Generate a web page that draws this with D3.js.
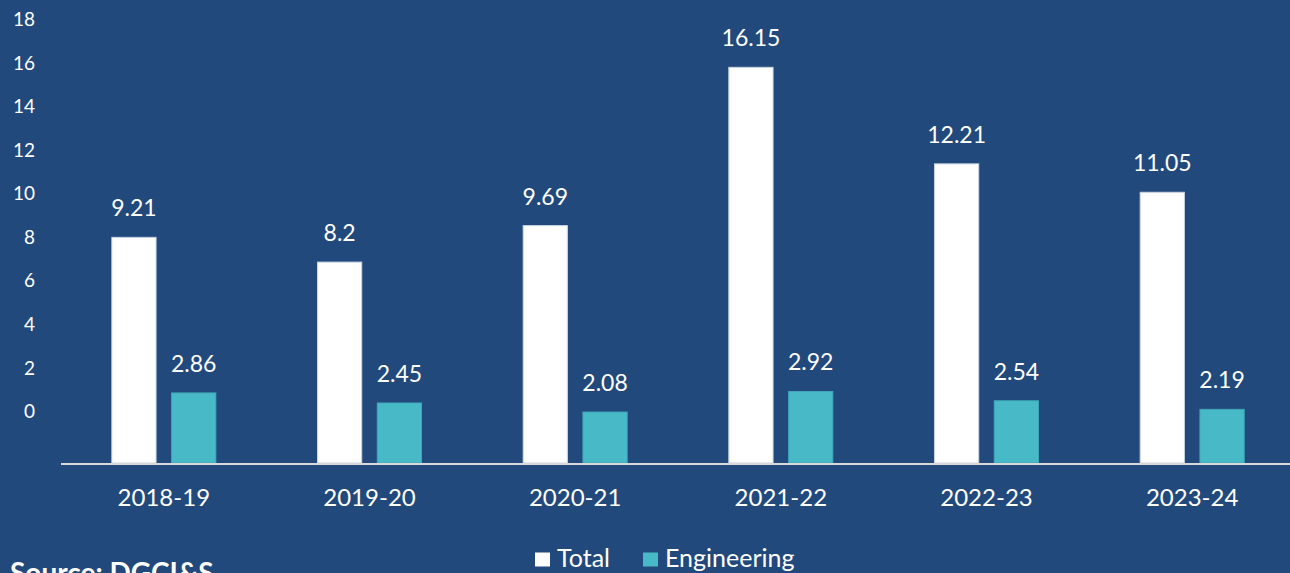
<!DOCTYPE html>
<html>
<head>
<meta charset="utf-8">
<script src="https://cdn.jsdelivr.net/npm/d3@7/dist/d3.min.js"></script>
<style>
  html, body { margin:0; padding:0; background:#22497c; overflow:hidden; }
  svg { display:block; font-family: Lato, "Open Sans", sans-serif; }
</style>
</head>
<body>
<svg id="chart" width="1290" height="573"></svg>
<script>
// datos
const years = ["2018-19","2019-20","2020-21","2021-22","2022-23","2023-24"];
const totalVals = [9.21, 8.2, 9.69, 16.15, 12.21, 11.05];
const engVals = [2.86, 2.45, 2.08, 2.92, 2.54, 2.19];
const tickVals = [0,2,4,6,8,10,12,14,16,18];
const seriesNames = ["Total","Engineering"];

const W = 1290, H = 573;
const BG = "#22497c", WHITE = "#ffffff", TEAL = "#48b9c7";

const svg = d3.select("#chart");
svg.append("rect").attr("width", W).attr("height", H).attr("fill", BG);

const x = d3.scaleBand().domain(years).range([61, 1295]).padding(0);
const xSub = d3.scaleBand().domain(seriesNames).range([-52, 52]).paddingInner(0.26);

// escala de barras (línea base en 463)
const yBar = d3.scaleLinear().domain([0, 18]).range([463, 22]);
// escala de etiquetas del eje (desplazada respecto de las barras, como en el original)
const yTick = d3.scaleLinear().domain([0, 18]).range([411.5, 19.3]);

// etiquetas del eje Y
svg.append("g")
  .selectAll("text")
  .data(tickVals)
  .enter().append("text")
  .attr("x", 35)
  .attr("y", d => yTick(d))
  .attr("dy", "0.35em")
  .attr("text-anchor", "end")
  .attr("fill", WHITE)
  .style("font-size", "19px")
  .text(d => d);

const rows = years.map((y, i) => ({ year: y, vals: [
  { key: "Total", v: totalVals[i], color: WHITE, stroke: "#c8d4e2" },
  { key: "Engineering", v: engVals[i], color: TEAL, stroke: "#3fa8b8" }
]}));

const groups = svg.append("g")
  .selectAll("g")
  .data(rows)
  .enter().append("g")
  .attr("transform", d => `translate(${x(d.year) + x.bandwidth()/2},0)`);

groups.selectAll("rect")
  .data(d => d.vals)
  .enter().append("rect")
  .attr("x", d => xSub(d.key))
  .attr("width", xSub.bandwidth())
  .attr("y", d => yBar(d.v))
  .attr("height", d => yBar(0) - yBar(d.v))
  .attr("fill", d => d.color)
  .attr("stroke", d => d.stroke)
  .attr("stroke-width", 1);

groups.selectAll("text.val")
  .data(d => d.vals)
  .enter().append("text")
  .attr("class", "val")
  .attr("x", d => xSub(d.key) + xSub.bandwidth()/2)
  .attr("y", d => yBar(d.v) - 21)
  .attr("text-anchor", "middle")
  .attr("fill", WHITE)
  .style("font-size", "23px")
  .text(d => d.v);

// línea base
svg.append("line")
  .attr("x1", 61).attr("x2", W)
  .attr("y1", 464).attr("y2", 464)
  .attr("stroke", "#d9d9d9")
  .attr("stroke-width", 2);

// etiquetas del eje X
svg.append("g")
  .selectAll("text")
  .data(years)
  .enter().append("text")
  .attr("x", d => x(d) + x.bandwidth()/2)
  .attr("y", 506)
  .attr("text-anchor", "middle")
  .attr("fill", WHITE)
  .style("font-size", "24px")
  .text(d => d);

// leyenda
const legendX = [535, 643];
const legendColors = [WHITE, TEAL];
const leg = svg.append("g")
  .selectAll("g")
  .data(seriesNames)
  .enter().append("g")
  .attr("transform", (d, i) => `translate(${legendX[i]},0)`);
leg.append("rect")
  .attr("x", 0).attr("y", 552.5)
  .attr("width", 15).attr("height", 14)
  .attr("fill", (d, i) => legendColors[i]);
leg.append("text")
  .attr("x", 22).attr("y", 566.5)
  .attr("fill", WHITE)
  .style("font-size", "25px")
  .text(d => d);

// fuente (cortada por el borde inferior, como en el original)
svg.append("text")
  .attr("x", 10).attr("y", 583)
  .attr("fill", WHITE)
  .style("font-size", "28px")
  .style("font-weight", "700")
  .text("Source: DGCI&S");
</script>
</body>
</html>
